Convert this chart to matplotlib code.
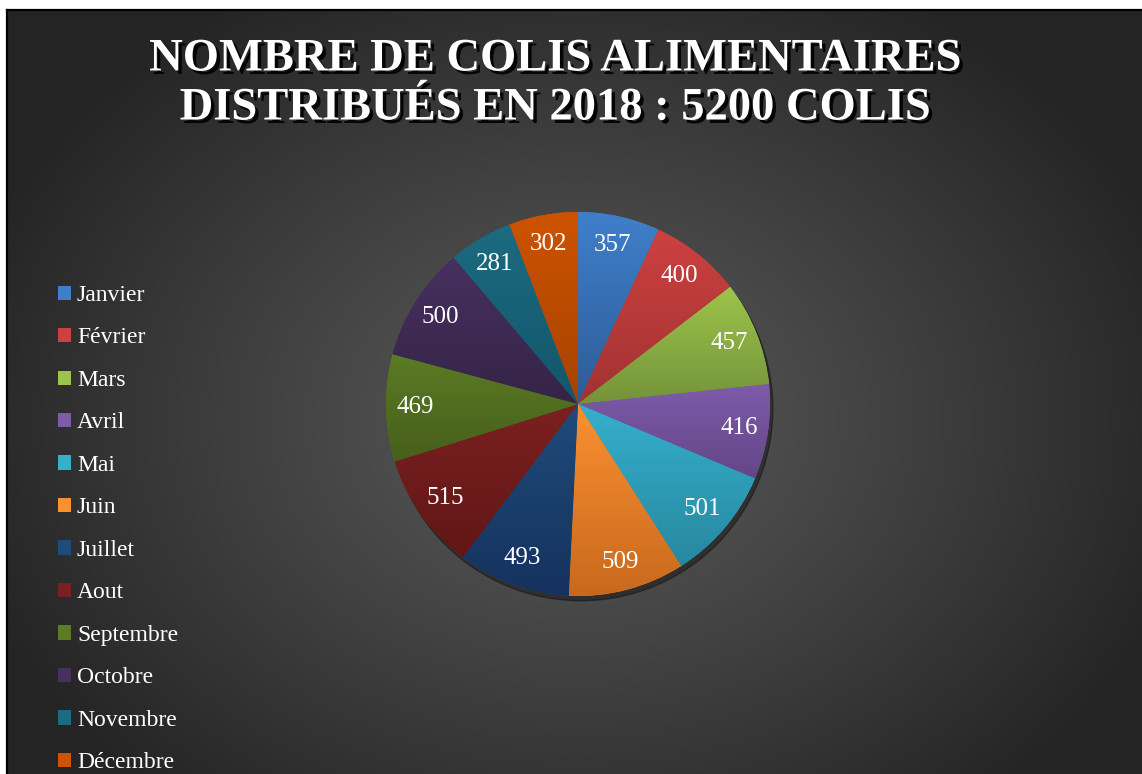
import matplotlib
matplotlib.use("Agg")
import matplotlib.pyplot as plt
import matplotlib.patheffects as pe
from matplotlib.colors import to_rgb
import numpy as np

mois = ['Janvier', 'Février', 'Mars', 'Avril', 'Mai', 'Juin', 'Juillet',
        'Aout', 'Septembre', 'Octobre', 'Novembre', 'Décembre']
colis = [357, 400, 457, 416, 501, 509, 493, 515, 469, 500, 281, 302]
titre = "NOMBRE DE COLIS ALIMENTAIRES\nDISTRIBUÉS EN 2018 : 5200 COLIS"

# couleurs haut / bas du dégradé de chaque part
haut = ['#3f7fca', '#cc4140', '#9dc44b', '#7d5ba9', '#35afcc', '#fa9131',
        '#1f4b7b', '#7b2020', '#5b7b25', '#473060', '#1c6b81', '#cd5300']
bas = ['#2d5c97', '#a23232', '#74933a', '#634687', '#2788a0', '#c9681d',
       '#15325d', '#611616', '#465f1a', '#342446', '#12566a', '#a64300']

plt.rcParams['font.family'] = ['Liberation Serif', 'DejaVu Serif']

W, H = 1142, 774
fig = plt.figure(figsize=(W / 100, H / 100), dpi=100, facecolor='white')

# fond dégradé radial
x0, y0 = 7, 10
bg = fig.add_axes([x0 / W, 0, 1 - x0 / W, 1 - y0 / H])
gx, gy = np.meshgrid(np.arange(x0, W), np.arange(y0, H))
r = np.sqrt(((gx - 575) / 640) ** 2 + ((gy - 420) / 500) ** 2)
v = (0x5a - (0x5a - 0x24) * np.clip(r, 0, 1) ** 1.1) / 255
bg.imshow(np.dstack([v, v, v]), aspect='auto', extent=[0, 1, 0, 1], origin='upper')
bg.set_xticks([])
bg.set_yticks([])
for s in ['right', 'bottom']:
    bg.spines[s].set_visible(False)
for s in ['left', 'top']:
    bg.spines[s].set_linewidth(1.6)
    bg.spines[s].set_color('black')

# camembert
cx, cy, R = 578, 404, 192
ax = fig.add_axes([(cx - R) / W, (H - cy - R) / H, 2 * R / W, 2 * R / H])
ax.set_facecolor('none')
total = sum(colis)
ombre = plt.Circle((0.015, -0.025), 1.0, color='black', alpha=0.35, zorder=0, clip_on=False)
ax.add_patch(ombre)
wedges, _, autotexts = ax.pie(colis, startangle=90, counterclock=False, colors=haut,
                              autopct=lambda p: f"{round(p * total / 100)}",
                              pctdistance=0.85,
                              wedgeprops=dict(linewidth=0),
                              textprops=dict(color='white', fontsize=18))
for w, c1, c2 in zip(wedges, haut, bas):
    w.set_clip_on(False)
    verts = w.get_path().vertices
    xmin, xmax = verts[:, 0].min(), verts[:, 0].max()
    ymin, ymax = verts[:, 1].min(), verts[:, 1].max()
    t = np.linspace(0, 1, 64)[:, None]
    grad = (1 - t) * np.array(to_rgb(c1)) + t * np.array(to_rgb(c2))
    im = ax.imshow(grad[:, None, :], extent=[xmin, xmax, ymin, ymax],
                   aspect='auto', origin='upper', zorder=1.5)
    im.set_clip_path(w)
for t in autotexts:
    t.set_zorder(3)
ax.set_xlim(-1, 1)
ax.set_ylim(-1, 1)
ax.set_aspect('auto')
ax.axis('off')

# titre
fig.text(555 / W, 1 - 84 / H, titre, ha='center', va='center', color='white',
         fontsize=33.5, fontweight='bold', linespacing=1.22,
         path_effects=[pe.SimplePatchShadow(offset=(2.5, -2.5), shadow_rgbFace='black', alpha=0.9),
                       pe.Normal()])

# légende
leg = fig.legend(wedges, mois, loc='upper left', bbox_to_anchor=(58 / W, 1 - 285 / H),
                 frameon=False, fontsize=17, labelcolor='white',
                 handlelength=0.55, handleheight=0.55, handletextpad=0.25,
                 labelspacing=0.91, borderpad=0, borderaxespad=0)

fig.savefig('out.png', dpi=100, facecolor='white')
